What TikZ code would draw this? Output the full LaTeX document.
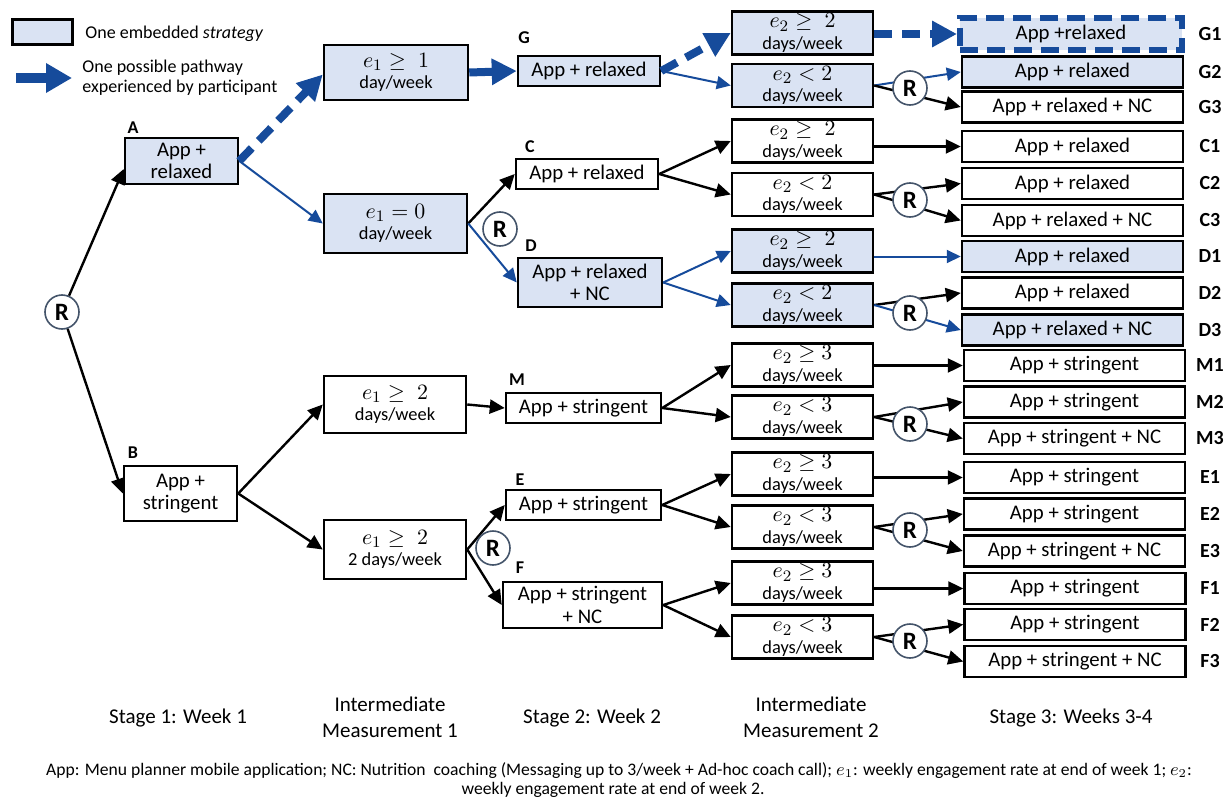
\documentclass[tikz,border=0pt]{standalone}
\usepackage{fontspec}
\setmainfont{Carlito}
\usetikzlibrary{arrows.meta,calc}
\definecolor{stratfill}{RGB}{218,227,243}
\definecolor{pathblue}{RGB}{22,75,155}
\definecolor{rborder}{RGB}{68,84,106}
\newcommand{\mth}[1]{{\fontsize{10.8}{11}\selectfont$#1$}}
\begin{document}
\begin{tikzpicture}[x=0.5pt,y=-0.5pt,
  box/.style={draw=black, line width=1.25pt, inner sep=0pt, align=center, fill=white,
    font=\fontsize{10.4}{11.2}\selectfont},
  sbox/.style={box, fill=stratfill},
  ibox/.style={box, font=\fontsize{9.2}{10.6}\selectfont},
  sibox/.style={ibox, fill=stratfill},
  wh/.style 2 args={minimum width=#1*0.5pt, minimum height=#2*0.5pt},
  rnode/.style={circle, draw=rborder, line width=0.8pt, fill=white, minimum size=17pt,
    inner sep=0pt, font=\bfseries\fontsize{12.5}{12.5}\selectfont},
  lab/.style={font=\bfseries\fontsize{9}{9}\selectfont, inner sep=0pt},
  rlab/.style={font=\bfseries\fontsize{10}{10}\selectfont, inner sep=0pt},
  blk/.style={draw=black, line width=1.2pt, -{Triangle[length=7.5pt,width=7pt]}},
  bthin/.style={draw=pathblue, line width=1pt, -{Triangle[length=7pt,width=6.5pt]}},
  pathw/.style={draw=pathblue, line width=4pt, -{Triangle[length=12.5pt,width=12.5pt]}},
  pathdash/.style={pathw, dash pattern=on 9pt off 5pt},
  stage/.style={align=center, font=\fontsize{10.5}{13}\selectfont, inner sep=0pt},
  legtext/.style={anchor=west, align=left, font=\fontsize{9}{10}\selectfont, inner sep=0pt}
]
\useasboundingbox (0,0) rectangle (1226,797);

% legend
\node[sbox, wh={60}{25}, line width=1.5pt] (leg1) at (42,32.5) {};
\node[legtext] (leg1t) at (85,34) {One embedded \textit{strategy}};
\coordinate (lega) at (16,78);
\coordinate (legb) at (72,78);
\draw[pathw, line width=5pt, -{Triangle[length=13pt,width=14pt]}] (lega) -- (legb);
\node[legtext] (leg2t) at (82,78) {One possible pathway\\experienced by participant};

% stage 1
\node[rnode] (R0) at (62,312) {R};
\node[sbox, wh={113}{46}] (A) at (181.5,161) {App +\\relaxed};
\node[box, wh={113}{55}] (B) at (180.5,493.5) {App +\\stringent};
\node[lab] (lA) at (133,128) {A};
\node[lab] (lB) at (133,453) {B};

% intermediate 1
\node[sibox, wh={144}{55}] (I1a) at (396,72.5) {\mth{e_1 \geq\; 1}\\day/week};
\node[sibox, wh={143}{59}] (I1b) at (395.5,223.5) {\mth{e_1 = 0}\\day/week};
\node[ibox, wh={142}{57}] (I1c) at (395,404.5) {\mth{e_1 \geq\; 2}\\days/week};
\node[ibox, wh={142}{59}] (I1d) at (395,549.5) {\mth{e_1 \geq\; 2}\\2 days/week};

% stage 2
\node[sbox, wh={142}{30}] (G) at (589,71) {App + relaxed};
\node[box, wh={142}{30}] (C) at (587,174) {App + relaxed};
\node[sbox, wh={144}{49}] (D) at (590,282.5) {App + relaxed\\+ NC};
\node[box, wh={155}{30}] (M) at (583.5,408) {App + stringent};
\node[box, wh={155}{30}] (E) at (583.5,505) {App + stringent};
\node[box, wh={159}{46}] (F) at (582.5,605) {App + stringent\\+ NC};
\node[lab] (lG) at (524,38) {G};
\node[lab] (lC) at (530,147) {C};
\node[lab] (lD) at (531,246) {D};
\node[lab] (lM) at (517,380) {M};
\node[lab] (lE) at (520,480) {E};
\node[lab] (lF) at (520,568) {F};

% intermediate 2
\node[sibox, wh={141}{43}] (Ga) at (802.5,33) {\mth{e_2 \geq\; 2}\\days/week};
\node[sibox, wh={141}{43}] (Gb) at (802.5,85.5) {\mth{e_2 < 2}\\days/week};
\node[ibox, wh={141}{43}] (Ca) at (802.5,141) {\mth{e_2 \geq\; 2}\\days/week};
\node[ibox, wh={141}{43}] (Cb) at (802.5,194.5) {\mth{e_2 < 2}\\days/week};
\node[sibox, wh={141}{43}] (Da) at (802.5,251) {\mth{e_2 \geq\; 2}\\days/week};
\node[sibox, wh={141}{43}] (Db) at (802.5,305) {\mth{e_2 < 2}\\days/week};
\node[ibox, wh={141}{43}] (Ma) at (802.5,365) {\mth{e_2 \geq 3}\\days/week};
\node[ibox, wh={141}{43}] (Mb) at (802.5,417) {\mth{e_2 < 3}\\days/week};
\node[ibox, wh={141}{43}] (Ea) at (802.5,474) {\mth{e_2 \geq 3}\\days/week};
\node[ibox, wh={141}{43}] (Eb) at (802.5,527) {\mth{e_2 < 3}\\days/week};
\node[ibox, wh={141}{43}] (Fa) at (802.5,583) {\mth{e_2 \geq 3}\\days/week};
\node[ibox, wh={141}{43}] (Fb) at (802.5,637) {\mth{e_2 < 3}\\days/week};

% stage 3
\node[box, wh={222}{32}, fill=stratfill, draw=pathblue, line width=3pt, dash pattern=on 9pt off 4.5pt] (G1) at (1071,34) {App +relaxed};
\node[sbox, wh={221}{31}] (G2) at (1072.5,72) {App + relaxed};
\node[box, wh={221}{31}] (G3) at (1072.5,107) {App + relaxed + NC};
\node[box, wh={221}{31}] (C1) at (1072.5,146.5) {App + relaxed};
\node[box, wh={221}{31}] (C2) at (1072.5,183.5) {App + relaxed};
\node[box, wh={221}{31}] (C3) at (1072.5,220.5) {App + relaxed + NC};
\node[sbox, wh={221}{31}] (D1) at (1072.5,256.5) {App + relaxed};
\node[box, wh={221}{31}] (D2) at (1072.5,293) {App + relaxed};
\node[sbox, wh={221}{31}] (D3) at (1072.5,330) {App + relaxed + NC};
\node[box, wh={221}{31}] (M1) at (1074.5,365.5) {App + stringent};
\node[box, wh={221}{31}] (M2) at (1074.5,402) {App + stringent};
\node[box, wh={221}{31}] (M3) at (1074.5,438.5) {App + stringent + NC};
\node[box, wh={221}{31}] (E1) at (1074.5,477.5) {App + stringent};
\node[box, wh={221}{31}] (E2) at (1074.5,514) {App + stringent};
\node[box, wh={221}{31}] (E3) at (1074.5,551) {App + stringent + NC};
\node[box, wh={221}{31}] (F1) at (1075,588.5) {App + stringent};
\node[box, wh={221}{31}] (F2) at (1075,624.5) {App + stringent};
\node[box, wh={221}{31}] (F3) at (1075,661.5) {App + stringent + NC};

\foreach \n/\yy in {G1/34,G2/72,G3/107,C1/146.5,C2/183.5,C3/220.5,D1/256.5,D2/293,D3/330,
  M1/365.5,M2/402,M3/438.5,E1/477.5,E2/514,E3/551,F1/588.5,F2/624.5,F3/661.5}
  \node[rlab] (l\n) at (1210,\yy) {\n};

% connectors
\draw[blk] (R0) -- ([yshift=-4pt]A.west);
\draw[blk] (R0) -- (B.west);
\draw[pathdash] (A.east) -- ([yshift=-1pt]I1a.west);
\draw[bthin] (A.east) -- (I1b.west);
\draw[pathw] (I1a.east) -- (G.west);
\draw[blk] (I1b.east) -- (C.west);
\draw[bthin] (I1b.east) -- (D.west);
\draw[pathdash] (G.east) -- (Ga.west);
\draw[bthin] (G.east) -- (Gb.west);
\draw[blk] (C.east) -- (Ca.west);
\draw[blk] (C.east) -- (Cb.west);
\draw[bthin] (D.east) -- (Da.west);
\draw[bthin] (D.east) -- (Db.west);
\draw[blk] (B.east) -- (I1c.west);
\draw[blk] (B.east) -- (I1d.west);
\draw[blk] (I1c.east) -- (M.west);
\draw[blk] (I1d.east) -- (E.west);
\draw[blk] (I1d.east) -- (F.west);
\draw[blk] (M.east) -- (Ma.west);
\draw[blk] (M.east) -- (Mb.west);
\draw[blk] (E.east) -- (Ea.west);
\draw[blk] (E.east) -- (Eb.west);
\draw[blk] (F.east) -- (Fa.west);
\draw[blk] (F.east) -- (Fb.west);

\draw[pathdash] (Ga.east |- G1.west) -- (G1.west);
\draw[bthin] (Gb.east) -- (G2.west);
\draw[blk] (Gb.east) -- (G3.west);
\draw[blk] (Ca.east |- C1.west) -- (C1.west);
\draw[blk] (Cb.east) -- (C2.west);
\draw[blk] (Cb.east) -- (C3.west);
\draw[bthin] (Da.east |- D1.west) -- (D1.west);
\draw[blk] (Db.east) -- (D2.west);
\draw[bthin] (Db.east) -- (D3.west);
\draw[blk] (Ma.east |- M1.west) -- (M1.west);
\draw[blk] (Mb.east) -- (M2.west);
\draw[blk] (Mb.east) -- (M3.west);
\draw[blk] (Ea.east |- E1.west) -- (E1.west);
\draw[blk] (Eb.east) -- (E2.west);
\draw[blk] (Eb.east) -- (E3.west);
\draw[blk] (Fa.east |- F1.west) -- (F1.west);
\draw[blk] (Fb.east) -- (F2.west);
\draw[blk] (Fb.east) -- (F3.west);

% randomisation circles
\node[rnode] (RD) at (500,229) {R};
\node[rnode] (RF) at (493,548) {R};
\node[rnode] (RG) at (910,88) {R};
\node[rnode] (RC) at (910,200) {R};
\node[rnode] (RDD) at (910,313) {R};
\node[rnode] (RM) at (910,424) {R};
\node[rnode] (RE) at (910,530) {R};
\node[rnode] (RFF) at (910,641) {R};

% stage captions
\node[stage] (s1) at (178,718) {Stage 1: Week 1};
\node[stage] (s2) at (390,717) {Intermediate\\Measurement 1};
\node[stage] (s3) at (592,718) {Stage 2: Week 2};
\node[stage] (s4) at (811,717) {Intermediate\\Measurement 2};
\node[stage] (s5) at (1071,718) {Stage 3: Weeks 3-4};

% footnote
\node[inner sep=0pt, font=\fontsize{8.8}{10}\selectfont] (cap1) at (619,771) {App: Menu planner mobile application; NC: Nutrition\ \ coaching (Messaging up to 3/week + Ad-hoc coach call); $e_1$: weekly engagement rate at end of week 1; $e_2$:};
\node[inner sep=0pt, font=\fontsize{8.8}{10}\selectfont] (cap2) at (613,790) {weekly engagement rate at end of week 2.};
\end{tikzpicture}
\end{document}
